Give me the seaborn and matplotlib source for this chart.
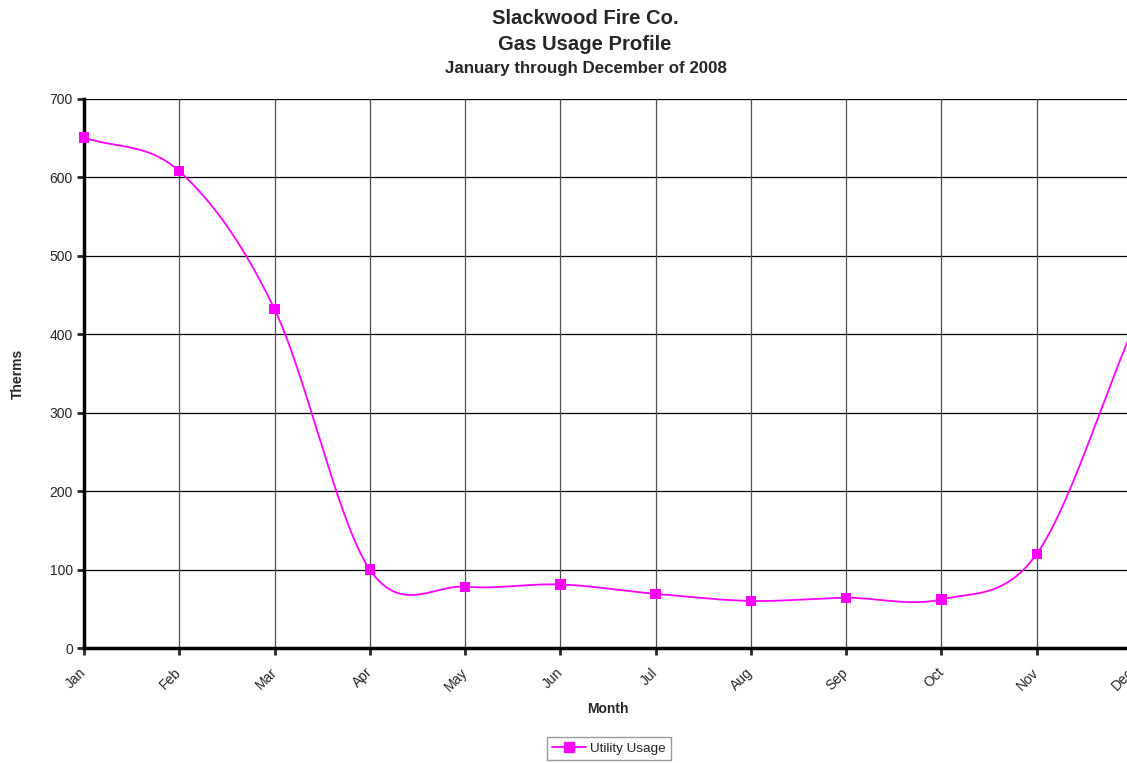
import numpy as np
import pandas as pd
import seaborn as sns
import matplotlib.pyplot as plt
from matplotlib.lines import Line2D

months = ["Jan", "Feb", "Mar", "Apr", "May", "Jun",
          "Jul", "Aug", "Sep", "Oct", "Nov", "Dec"]
therms = [651, 608, 432, 100, 78, 81, 69, 60, 64, 62, 120, 404]


def smooth_line(y, steps=30):
    # Catmull-Rom style smoothing, like Excel's "smoothed line" option
    y = np.asarray(y, dtype=float)
    n = len(y)
    pad = np.concatenate([[2 * y[0] - y[1]], y, [2 * y[-1] - y[-2]]])
    xs, ys = [], []
    for i in range(n - 1):
        p0, p1, p2, p3 = pad[i], pad[i + 1], pad[i + 2], pad[i + 3]
        m1 = (p2 - p0) / 2
        m2 = (p3 - p1) / 2
        t = np.linspace(0, 1, steps, endpoint=False)
        h00 = 2 * t**3 - 3 * t**2 + 1
        h10 = t**3 - 2 * t**2 + t
        h01 = -2 * t**3 + 3 * t**2
        h11 = t**3 - t**2
        xs.append(i + t)
        ys.append(h00 * p1 + h10 * m1 + h01 * p2 + h11 * m2)
    xs.append([n - 1])
    ys.append([y[-1]])
    return np.concatenate(xs), np.concatenate(ys)


sns.set_style("white")
plt.rcParams["font.family"] = ["Liberation Sans", "DejaVu Sans"]

df = pd.DataFrame({"month": np.arange(len(months)), "therms": therms})
sx, sy = smooth_line(therms)
curve = pd.DataFrame({"x": sx, "y": sy})

fig = plt.figure(figsize=(11.27, 7.63), dpi=100)
ax = fig.add_axes([84 / 1127, 115 / 763, 1048 / 1127, 549 / 763])

sns.lineplot(data=curve, x="x", y="y", ax=ax, color="#ff00ff", lw=1.3,
             sort=False, estimator=None, zorder=3)
sns.scatterplot(data=df, x="month", y="therms", ax=ax, color="#ff00ff",
                marker="s", s=55, edgecolor="none", zorder=4, clip_on=False)

ax.set_xlim(0, 11)
ax.set_ylim(0, 700)
ax.set_xticks(range(len(months)))
ax.set_xticklabels(months, rotation=45, ha="right", va="center",
                   rotation_mode="anchor", fontsize=10)
ax.set_yticks(range(0, 701, 100))
ax.tick_params(axis="y", labelsize=10, length=5, width=2, direction="out",
               left=True, pad=3)
ax.tick_params(axis="x", length=5, width=2, direction="out", bottom=True,
               pad=11)

ax.grid(False)
for yv in range(100, 701, 100):
    ax.axhline(yv, color="black", lw=0.9, zorder=1)
for xv in range(1, len(months)):
    ax.axvline(xv, color="#505050", lw=0.9, zorder=1)

for side in ["top", "right"]:
    ax.spines[side].set_visible(False)
ax.spines["left"].set_linewidth(2.5)
ax.spines["bottom"].set_linewidth(2.5)
ax.spines["left"].set_color("black")
ax.spines["bottom"].set_color("black")

ax.set_xlabel("Month", fontsize=10, fontweight="bold", labelpad=6)
ax.set_ylabel("Therms", fontsize=10, fontweight="bold", labelpad=18)

fig.text(585 / 1127, 1 - 18 / 763, "Slackwood Fire Co.", ha="center",
         va="center", fontsize=14.6, fontweight="bold")
fig.text(585 / 1127, 1 - 44 / 763, "Gas Usage Profile", ha="center",
         va="center", fontsize=14.6, fontweight="bold")
fig.text(586 / 1127, 1 - 68 / 763, "January through December of 2008",
         ha="center", va="center", fontsize=12.2, fontweight="bold")

handle = Line2D([], [], color="#ff00ff", lw=1.3, marker="s", markersize=7,
                markeredgecolor="#ff00ff")
leg = fig.legend([handle], ["Utility Usage"], loc="upper center",
                 bbox_to_anchor=(609 / 1127, 1 - 737 / 763), fontsize=9.7,
                 frameon=True, fancybox=False, handlelength=2.5,
                 borderpad=0.4, handletextpad=0.3, borderaxespad=0)
leg.get_frame().set_edgecolor("#808080")
leg.get_frame().set_linewidth(1)

fig.savefig("out.png", dpi=100)
